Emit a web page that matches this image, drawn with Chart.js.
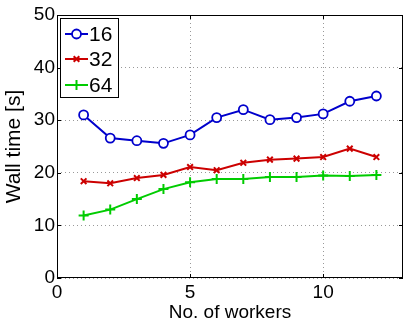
<!DOCTYPE html>
<html>
<head>
<meta charset="utf-8">
<script src="https://cdn.jsdelivr.net/npm/chart.js@4"></script>
<style>
  body { margin: 0; background: #fff; overflow: hidden; }
  canvas { display: block; }
</style>
</head>
<body>
<canvas id="wall-time" width="403" height="322"></canvas>
<script>
// workers on the x axis
var workers = [1, 2, 3, 4, 5, 6, 7, 8, 9, 10, 11, 12];

// wall time in seconds per run size
var time16 = [31.0, 26.6, 26.1, 25.6, 27.2, 30.5, 32.0, 30.1, 30.5, 31.2, 33.6, 34.6];
var time32 = [18.4, 18.0, 19.0, 19.6, 21.1, 20.5, 21.9, 22.5, 22.7, 23.0, 24.6, 23.0];
var time64 = [11.9, 13.0, 15.0, 16.9, 18.2, 18.8, 18.8, 19.2, 19.2, 19.5, 19.4, 19.6];

var seriesLabels = ['16', '32', '64'];
var xTicks = [0, 5, 10];
var yTicks = [0, 10, 20, 30, 40, 50];

function pts(ys) {
  return workers.map(function (w, i) { return { x: w, y: ys[i] }; });
}

var font = 'Liberation Sans, Arial, Helvetica, sans-serif';

// box round the plot, inner ticks, legend in the upper left corner
var boxAndLegend = {
  id: 'boxAndLegend',
  afterDraw: function (chart) {
    var c = chart.ctx, a = chart.chartArea;
    var sx = chart.scales.x, sy = chart.scales.y;
    c.save();
    c.setLineDash([]);
    c.strokeStyle = '#000';
    c.lineWidth = 1;
    c.strokeRect(a.left + 0.5, a.top + 0.5, a.right - a.left - 1, a.bottom - a.top - 1);

    c.beginPath();
    xTicks.forEach(function (v) {
      var px = Math.round(sx.getPixelForValue(v)) + 0.5;
      c.moveTo(px, a.bottom); c.lineTo(px, a.bottom - 4);
      c.moveTo(px, a.top); c.lineTo(px, a.top + 4);
    });
    yTicks.forEach(function (v) {
      var py = Math.round(sy.getPixelForValue(v)) + 0.5;
      c.moveTo(a.left, py); c.lineTo(a.left + 4, py);
      c.moveTo(a.right, py); c.lineTo(a.right - 4, py);
    });
    c.stroke();

    // legend
    var bx = 60, by = 18, bw = 58, bh = 79;
    c.fillStyle = '#fff';
    c.fillRect(bx, by, bw, bh);
    c.strokeRect(bx + 0.5, by + 0.5, bw, bh);
    var rows = [34, 59, 85];
    chart.data.datasets.forEach(function (ds, i) {
      var y = rows[i];
      c.strokeStyle = ds.borderColor;
      c.lineWidth = 2;
      c.beginPath();
      c.moveTo(65, y);
      c.lineTo(88, y);
      c.stroke();
      c.lineWidth = ds.pointBorderWidth;
      c.fillStyle = ds.pointBackgroundColor;
      Chart.helpers.drawPoint(c, {
        pointStyle: ds.pointStyle,
        radius: ds.pointRadius,
        borderWidth: ds.pointBorderWidth,
        rotation: 0
      }, 76.5, y);
      c.fillStyle = '#000';
      c.font = '21px ' + font;
      c.textAlign = 'left';
      c.textBaseline = 'middle';
      c.fillText(ds.label, 89, y + 1);
    });
    c.restore();
  }
};

var ctx = document.getElementById('wall-time').getContext('2d');

var chart = new Chart(ctx, {
  type: 'line',
  data: {
    datasets: [
      {
        label: seriesLabels[0],
        data: pts(time16),
        borderColor: '#0000cc',
        backgroundColor: '#0000cc',
        borderWidth: 2,
        pointStyle: 'circle',
        pointRadius: 4.5,
        pointBorderWidth: 1.8,
        pointBackgroundColor: '#fff',
        pointBorderColor: '#0000cc'
      },
      {
        label: seriesLabels[1],
        data: pts(time32),
        borderColor: '#cc0000',
        backgroundColor: '#cc0000',
        borderWidth: 2,
        pointStyle: 'crossRot',
        pointRadius: 4,
        pointBorderWidth: 2,
        pointBackgroundColor: '#cc0000',
        pointBorderColor: '#cc0000'
      },
      {
        label: seriesLabels[2],
        data: pts(time64),
        borderColor: '#00cc00',
        backgroundColor: '#00cc00',
        borderWidth: 2,
        pointStyle: 'cross',
        pointRadius: 5,
        pointBorderWidth: 2,
        pointBackgroundColor: '#00cc00',
        pointBorderColor: '#00cc00'
      }
    ]
  },
  options: {
    responsive: false,
    animation: false,
    layout: { autoPadding: false, padding: { top: 15, right: 0, left: 0, bottom: 0 } },
    plugins: {
      legend: { display: false },
      tooltip: { enabled: false }
    },
    scales: {
      x: {
        type: 'linear',
        min: 0,
        max: 13,
        afterBuildTicks: function (s) { s.ticks = xTicks.map(function (v) { return { value: v }; }); },
        afterFit: function (s) { s.height = 44; s.paddingRight = 0; s.paddingLeft = 0; },
        border: { display: false, dash: [1, 3] },
        grid: { color: '#999', lineWidth: 1, drawTicks: false },
        ticks: { color: '#000', font: { family: font, size: 19 }, padding: 3, maxRotation: 0 },
        title: { display: true, text: 'No. of workers', color: '#000', font: { family: font, size: 19 }, padding: { top: -2, bottom: -2 } }
      },
      y: {
        min: 0,
        max: 50,
        afterBuildTicks: function (s) { s.ticks = yTicks.map(function (v) { return { value: v }; }); },
        afterFit: function (s) { s.width = 57; },
        border: { display: false, dash: [1, 3] },
        grid: { color: '#999', lineWidth: 1, drawTicks: false },
        ticks: { color: '#000', font: { family: font, size: 19 }, padding: 2 },
        title: { display: true, text: 'Wall time [s]', color: '#000', font: { family: font, size: 21 }, padding: { top: 2, bottom: 0 } }
      }
    }
  },
  plugins: [boxAndLegend]
});

// plot frame should reach the right edge of the window
var gap = Math.round(403 - chart.chartArea.right);
if (gap > 0) chart.resize(403 + gap, 322);
</script>
</body>
</html>
